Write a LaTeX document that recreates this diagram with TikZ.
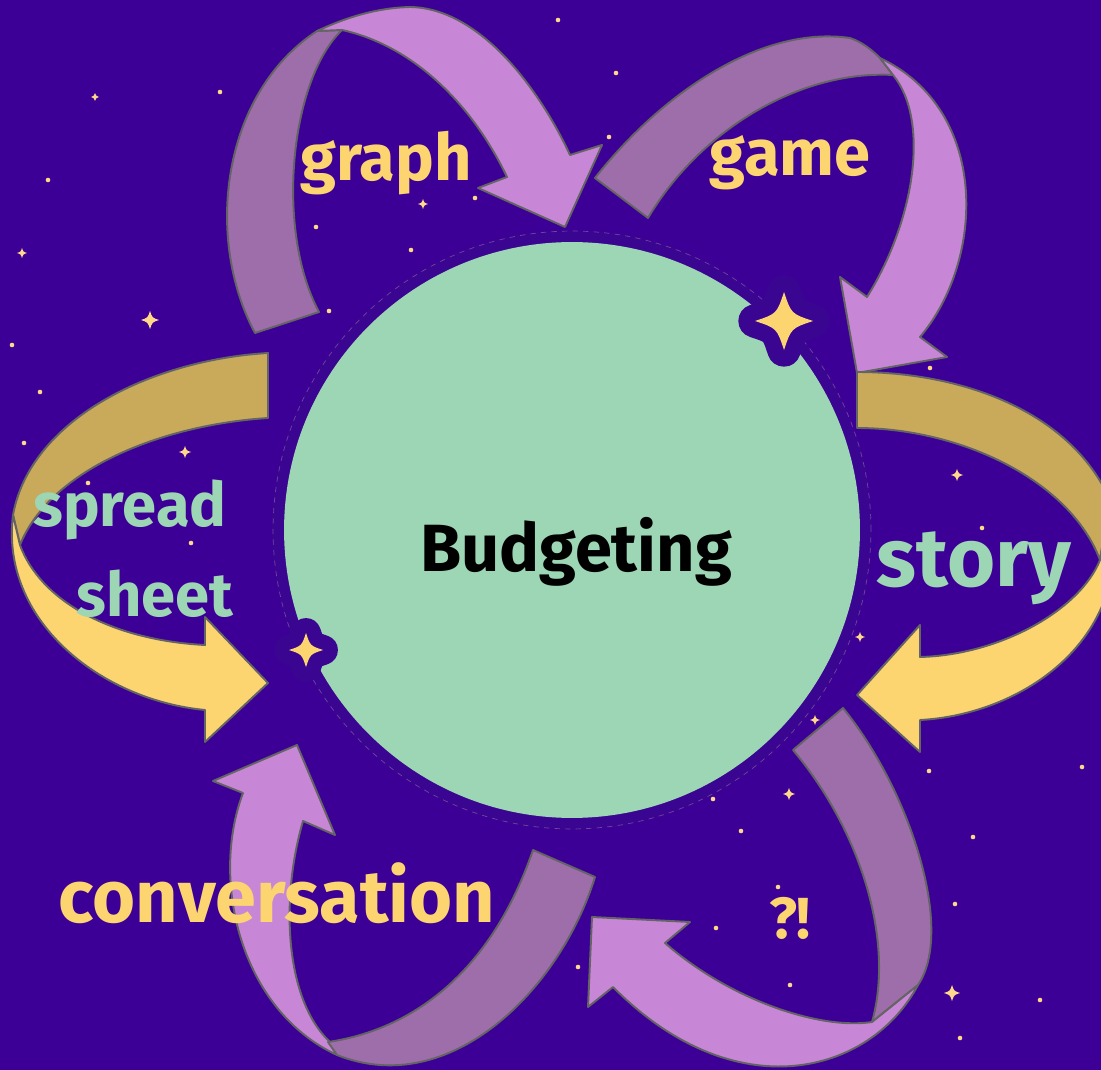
\documentclass[tikz,border=0pt]{standalone}
\usepackage{fontspec}
\setmainfont{Fira Sans}
\definecolor{nightsky}{HTML}{3D0096}
\definecolor{ringsky}{HTML}{3A0590}
\definecolor{plumdark}{HTML}{9E6EAB}
\definecolor{plumlight}{HTML}{C887D6}
\definecolor{golddark}{HTML}{C9A95A}
\definecolor{goldlight}{HTML}{FCD571}
\definecolor{mint}{HTML}{9DD6B4}
\definecolor{bandedge}{HTML}{646464}
\definecolor{stardust}{HTML}{FFD98A}
\tikzset{
  twinkle/.pic={\path[pic actions] (0,-1) .. controls (0.25,-0.25) .. (1,0)
    .. controls (0.25,0.25) .. (0,1) .. controls (-0.25,0.25) .. (-1,0)
    .. controls (-0.25,-0.25) .. (0,-1) -- cycle;}
}
\begin{document}
\begin{tikzpicture}[x=0.02cm,y=-0.02cm,
    band/.style={draw=bandedge,line width=1.1pt,line join=round},
    word/.style={font=\bfseries\fontsize{#1}{#1}\selectfont,inner sep=0pt}]
  \useasboundingbox (0,0) rectangle (1101,1070);
  \fill[nightsky] (0,0) rectangle (1101,1070);
  \clip (0,0) rectangle (1101,1070);
  % stars
  \foreach \x/\y in {12/345,40/392,24/443,88/483,191/543,558/20,609/137,475/198,
      316/227,411/250,329/311,616/73,930/368,982/528,1082/767,929/771,973/837,
      741/831,716/928,790/985,955/904,960/1038,778/887,713/799,578/967,48/180,
      220/92,1040/1000}
    \fill[stardust] (\x,\y) circle (1.3pt);
  \foreach \x/\y/\s in {95/97/4,22/253/5,150/320/9,185/452/6,423/204/5,957/475/6,
      1080/508/5,860/637/5,815/720/5,789/794/6,952/993/8}
    \pic[fill=stardust,scale=\s] at (\x,\y) {twinkle};
  % graph arrow
  \path[band,fill=plumdark] (255,333) .. controls (205,240) and (220,95) .. (317,31)
    -- (342,30) .. controls (290,80) and (275,230) .. (319,312) -- cycle;
  \path[band,fill=plumlight] (317,31) .. controls (345,18) and (375,8) .. (410,7)
    .. controls (480,8) and (540,90) .. (570,155) -- (602,145) -- (565,227)
    -- (478,188) -- (507,177) .. controls (470,100) and (410,45) .. (342,30) -- cycle;
  % game arrow
  \path[band,fill=plumdark] (595,178) .. controls (660,95) and (760,25) .. (850,38)
    .. controls (862,42) and (872,50) .. (880,58) -- (893,75)
    .. controls (800,70) and (700,130) .. (648,218) -- cycle;
  \path[band,fill=plumlight] (880,58) .. controls (990,110) and (985,260) .. (920,337)
    -- (947,357) -- (857,373) -- (840,277) -- (867,297)
    .. controls (915,220) and (930,120) .. (893,75) -- cycle;
  % story arrow
  \path[band,fill=golddark] (857,372) .. controls (960,372) and (1070,410) .. (1110,500)
    -- (1100,560) .. controls (1070,480) and (960,428) .. (857,428) -- cycle;
  \path[band,fill=goldlight] (1110,500) .. controls (1140,640) and (1020,715) .. (920,720)
    -- (920,752) -- (857,695) -- (920,625) -- (920,657)
    .. controls (1000,655) and (1080,610) .. (1100,560) -- cycle;
  % ?! arrow
  \path[band,fill=plumdark] (793,750) -- (843,708) .. controls (910,790) and (955,930) .. (918,985)
    -- (872,1022) .. controls (895,940) and (860,830) .. (793,750) -- cycle;
  \path[band,fill=plumlight] (918,985) .. controls (870,1075) and (735,1110) .. (613,987)
    -- (588,1007) -- (592,917) -- (690,922) -- (665,943)
    .. controls (730,1000) and (820,1030) .. (872,1022) -- cycle;
  % conversation arrow
  \path[band,fill=plumlight] (297,745) -- (335,835) -- (303,821)
    .. controls (280,900) and (285,1000) .. (330,1042) -- (337,1055)
    .. controls (240,1010) and (210,880) .. (243,793) -- (213,781) -- cycle;
  \path[band,fill=plumdark] (328,1042) .. controls (410,1030) and (490,975) .. (533,850)
    -- (595,877) .. controls (560,990) and (450,1100) .. (337,1055) -- cycle;
  % spreadsheet arrow
  \path[band,fill=golddark] (268,353) -- (268,418) .. controls (160,425) and (50,470) .. (20,545)
    -- (13,515) .. controls (30,420) and (150,360) .. (268,353) -- cycle;
  \path[band,fill=goldlight] (13,515) .. controls (0,620) and (100,700) .. (205,710)
    -- (205,742) -- (268,683) -- (205,617) -- (205,645)
    .. controls (110,640) and (40,600) .. (20,545) -- cycle;
  % hub
  \fill[ringsky] (572,530) circle[radius=6cm];
  \draw[plumdark!60!nightsky,line width=0.4pt,dashed] (572,530) circle[radius=5.98cm];
  \node[circle,fill=mint,minimum size=11.52cm,inner sep=0pt] (hub) at (572,530) {};
  % sparkles on the rim
  \pic[draw=ringsky,fill=ringsky,line width=19pt,line join=round,scale=29] at (784,321) {twinkle};
  \pic[fill=goldlight,scale=29] at (784,321) {twinkle};
  \pic[draw=ringsky,fill=ringsky,line width=17pt,line join=round,scale=17] at (306,650) {twinkle};
  \pic[fill=goldlight,scale=17] at (306,650) {twinkle};
  % labels
  \node[word=38,text=black] (budget) at (576,552) {Budgeting};
  \node[word=37,text=goldlight] (graph) at (386,163) {graph};
  \node[word=37,text=goldlight] (game) at (790,163) {game};
  \node[word=47,text=mint] (story) at (974,568) {story};
  \node[word=35,text=mint] (spread) at (130,510) {spread};
  \node[word=35,text=mint] (sheet) at (155,594) {sheet};
  \node[word=42,text=goldlight] (talk) at (277,893) {conversation};
  \node[word=33,text=goldlight] (puzzle) at (790,918) {?!};
\end{tikzpicture}
\end{document}
